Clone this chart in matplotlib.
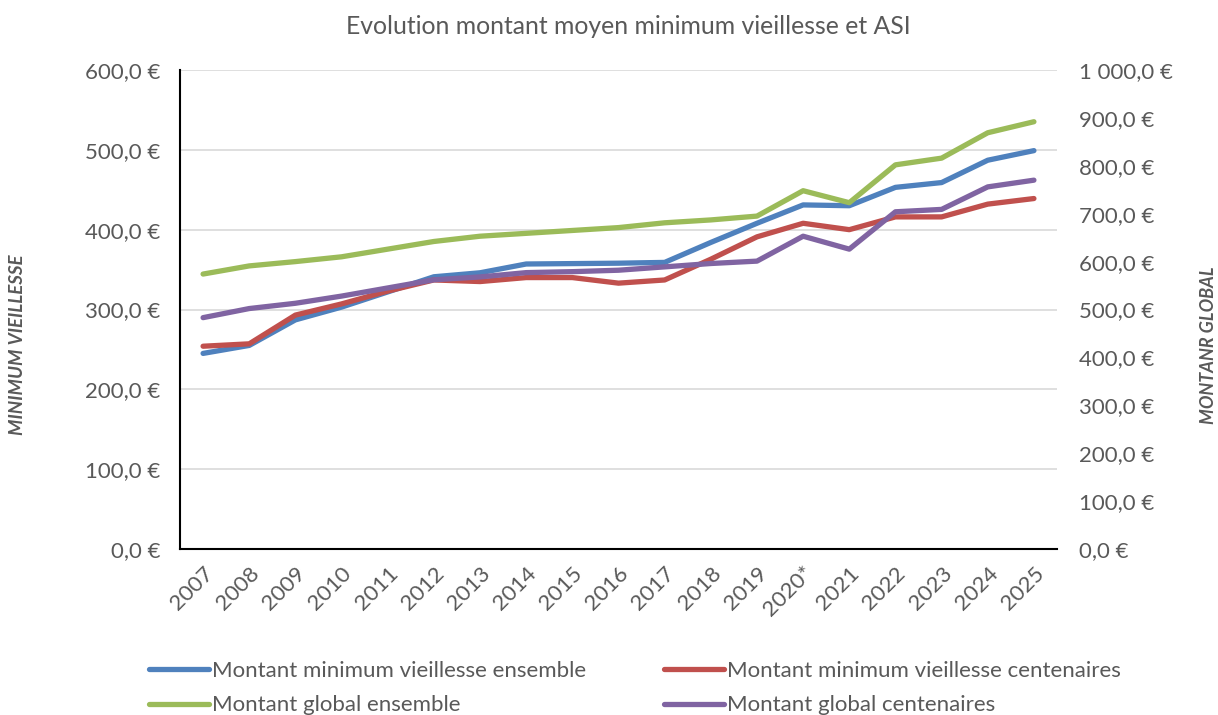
import matplotlib.pyplot as plt
from matplotlib.ticker import FuncFormatter, MultipleLocator

plt.rcParams['font.family'] = ['Lato', 'DejaVu Sans']

annees = ['2007', '2008', '2009', '2010', '2011', '2012', '2013', '2014', '2015', '2016',
          '2017', '2018', '2019', '2020*', '2021', '2022', '2023', '2024', '2025']

# axe gauche (minimum vieillesse)
mv_ensemble = [245, 255, 287, 303, 322, 341, 346, 357, 357.5, 358,
               359, 384, 408, 431, 430, 453, 459, 487, 499]
mv_centenaires = [254, 257, 293, 307, 323, 337, 335, 340, 340, 333,
                  337, 363, 391, 408, 400, 416, 416, 432, 439]
# axe droit (montant global)
glob_ensemble = [574, 591, 600, 610, 626, 642, 653, 659, 665, 671,
                 681, 687, 695, 748, 723, 802, 816, 869, 892]
glob_centenaires = [483, 502, 513, 528, 545, 562, 568, 577, 579, 582,
                    589, 596, 601, 653, 626, 704, 709, 756, 770]

gris = '#595959'

def euro(v, pos):
    s = '{:,.1f}'.format(v).replace(',', ' ').replace('.', ',')
    return s + ' €'

fig = plt.figure(figsize=(12.18, 7.15), dpi=100)
ax1 = fig.add_axes([180/1218, 166/715, 877/1218, 479/715])
ax2 = ax1.twinx()

x = list(range(len(annees)))
l1, = ax1.plot(x, mv_ensemble, c='#4F81BD', lw=3.8, solid_capstyle='round', label='Montant minimum vieillesse ensemble')
l2, = ax1.plot(x, mv_centenaires, c='#C0504D', lw=3.8, solid_capstyle='round', label='Montant minimum vieillesse centenaires')
l3, = ax2.plot(x, glob_ensemble, c='#9BBB59', lw=3.8, solid_capstyle='round', label='Montant global ensemble')
l4, = ax2.plot(x, glob_centenaires, c='#8064A2', lw=3.8, solid_capstyle='round', label='Montant global centenaires')

ax1.set_xlim(-0.5, len(annees) - 0.5)
ax1.set_ylim(0, 600)
ax2.set_ylim(0, 1000)
ax1.yaxis.set_major_locator(MultipleLocator(100))
ax2.yaxis.set_major_locator(MultipleLocator(100))
ax1.yaxis.set_major_formatter(FuncFormatter(euro))
ax2.yaxis.set_major_formatter(FuncFormatter(euro))

ax1.grid(axis='y', color='#d9d9d9', lw=1.2)
ax1.set_axisbelow(True)
ax1.set_xticks(x)
ax1.set_xticklabels(annees, rotation=45, ha='right', rotation_mode='anchor')

for ax in (ax1, ax2):
    for s in ax.spines.values():
        s.set_visible(False)
    ax.tick_params(length=0, labelsize=16, colors=gris)
ax1.spines['left'].set_visible(True)
ax1.spines['bottom'].set_visible(True)
ax1.spines['left'].set_color('black')
ax1.spines['bottom'].set_color('black')
ax1.spines['left'].set_linewidth(1.5)
ax1.spines['bottom'].set_linewidth(1.5)
ax1.tick_params(axis='y', pad=14)
ax2.tick_params(axis='y', pad=16)
ax1.tick_params(axis='x', pad=10)

fig.text(18/1218, 1 - 345/715, 'MINIMUM VIEILLESSE', rotation=90, ha='center', va='center',
         fontsize=13.5, fontweight='bold', fontstyle='italic', color=gris)
fig.text(1208/1218, 1 - 345/715, 'MONTANR GLOBAL', rotation=90, ha='center', va='center',
         fontsize=13, fontweight='bold', fontstyle='italic', color=gris)
fig.text(628/1218, 1 - 27/715, 'Evolution montant moyen minimum vieillesse et ASI',
         ha='center', va='center', fontsize=17.8, color=gris)

# ordre ligne par ligne comme dans Excel
leg = fig.legend(handles=[l1, l3, l2, l4], ncol=2, loc='upper left',
                 bbox_to_anchor=(140/1218, 1 - 652/715), frameon=False,
                 fontsize=16, handlelength=2.7, handletextpad=0.15,
                 columnspacing=3.5, labelspacing=0.65, borderaxespad=0)
for t in leg.get_texts():
    t.set_color(gris)

fig.savefig('out.png', dpi=100)
